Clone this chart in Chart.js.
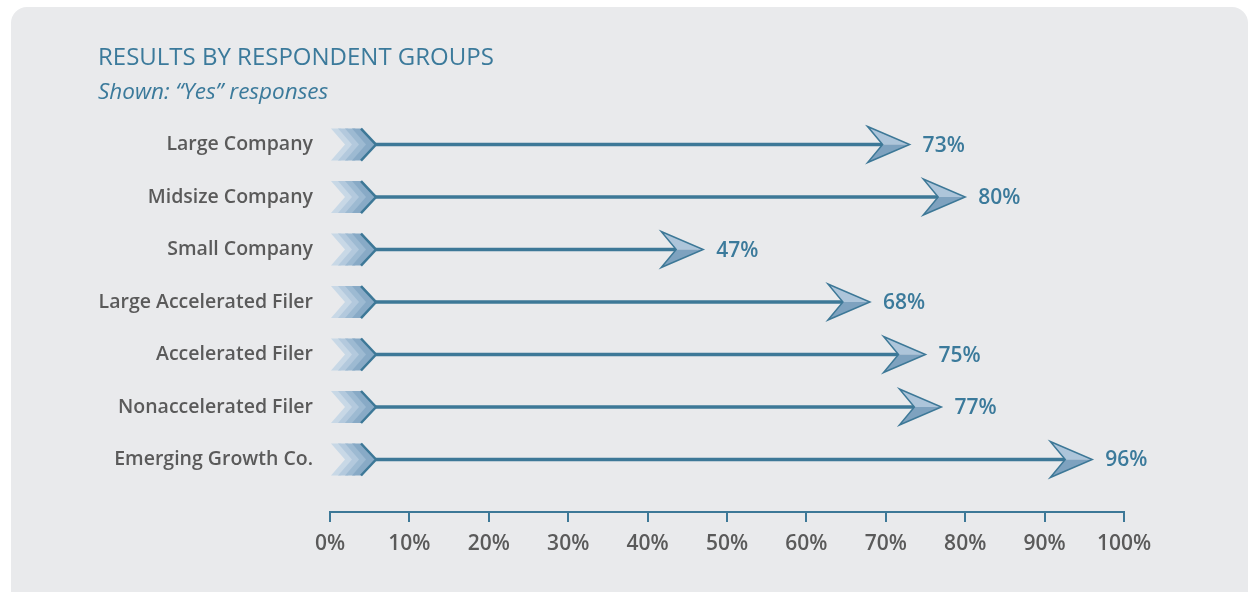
<!DOCTYPE html>
<html>
<head>
<meta charset="utf-8">
<script src="https://cdn.jsdelivr.net/npm/chart.js@4.4.1/dist/chart.umd.min.js"></script>
<style>
  html, body { margin:0; padding:0; background:#fff; }
  #wrap { position:relative; width:1254px; height:592px; overflow:hidden; }
  #panel { position:absolute; left:11px; top:7px; width:1237px; height:600px; background:#e9eaec; border-radius:16px; }
  #chart { position:absolute; left:0; top:0; }
</style>
</head>
<body>
<div id="wrap">
  <div id="panel"></div>
  <canvas id="chart" width="1254" height="592"></canvas>
</div>
<script>
// data
const groups = ['Large Company','Midsize Company','Small Company','Large Accelerated Filer','Accelerated Filer','Nonaccelerated Filer','Emerging Growth Co.'];
const yesPct = [73, 80, 47, 68, 75, 77, 96];
const xTicks = [0,10,20,30,40,50,60,70,80,90,100];

const TEAL = '#3d7897', TEXT = '#3b7a9b', GREY = '#5a5a5a';
const FONT = '"Open Sans", "Noto Sans", sans-serif';

// draws the feathered arrows on top of the (invisible) bars
const arrows = {
  id:'arrows',
  afterDatasetsDraw(chart){
    const ctx = chart.ctx;
    chart.getDatasetMeta(0).data.forEach((bar, i) => {
      const x0 = bar.base, tip = bar.x, y = bar.y;
      ctx.save();
      // fletching
      const fl = ['#c8d8e6','#b3c9dd','#9dbad2','#88aac6'];
      const h = 16, t = 10, d = 14;
      fl.forEach((c, k) => {
        const a = x0 + k*7;
        ctx.beginPath();
        ctx.moveTo(a, y-h); ctx.lineTo(a+t, y-h); ctx.lineTo(a+t+d, y);
        ctx.lineTo(a+t, y+h); ctx.lineTo(a, y+h); ctx.lineTo(a+d, y);
        ctx.closePath(); ctx.fillStyle = c; ctx.fill();
      });
      const fa = x0 + 21 + t;
      ctx.beginPath();
      ctx.moveTo(fa-1, y-h); ctx.lineTo(fa+d, y); ctx.lineTo(fa-1, y+h);
      ctx.strokeStyle = TEAL; ctx.lineWidth = 2.5; ctx.stroke();
      // shaft
      const back = tip-42, notch = tip-27, hh = 18;
      ctx.beginPath();
      ctx.moveTo(fa+d, y); ctx.lineTo(notch, y);
      ctx.lineWidth = 3.5; ctx.stroke();
      // head
      ctx.beginPath();
      ctx.moveTo(back, y-hh); ctx.lineTo(tip, y); ctx.lineTo(notch, y); ctx.closePath();
      ctx.fillStyle = '#adc5da'; ctx.fill();
      ctx.beginPath();
      ctx.moveTo(notch, y); ctx.lineTo(tip, y); ctx.lineTo(back, y+hh); ctx.closePath();
      ctx.fillStyle = '#7ea2bf'; ctx.fill();
      ctx.beginPath();
      ctx.moveTo(back, y-hh); ctx.lineTo(tip, y); ctx.lineTo(back, y+hh); ctx.lineTo(notch, y); ctx.closePath();
      ctx.lineWidth = 1.5; ctx.lineJoin = 'miter'; ctx.stroke();
      // value label
      ctx.fillStyle = TEXT;
      ctx.font = '600 21px ' + FONT;
      ctx.textBaseline = 'middle';
      ctx.fillText(yesPct[i] + '%', tip + 13, y + 1);
      ctx.restore();
    });
  }
};

new Chart(document.getElementById('chart'), {
  type:'bar',
  data:{ datasets:[{ data: yesPct.map((v,i)=>({x:v, y:i})), backgroundColor:'rgba(0,0,0,0)', borderWidth:0 }] },
  options:{
    indexAxis:'y', responsive:false, animation:false,
    layout:{ padding:{ left:98, right:130, top:0, bottom:0 } },
    plugins:{
      legend:{ display:false }, tooltip:{ enabled:false },
      title:{ display:true, text:'RESULTS BY RESPONDENT GROUPS', align:'start', color:TEXT,
        font:{ family:FONT, size:24, weight:'normal', lineHeight:1.2 }, padding:{ top:44, bottom:4 } },
      subtitle:{ display:true, text:'Shown: \u201cYes\u201d responses', align:'start', color:TEXT,
        font:{ family:FONT, size:22.5, style:'italic', weight:'normal', lineHeight:1.2 }, padding:{ top:2, bottom:12.5 } }
    },
    scales:{
      x:{ type:'linear', min:0, max:100,
        afterBuildTicks: s => { s.ticks = xTicks.map(v => ({value:v})); },
        afterFit: s => { s.height = 80; },
        grid:{ display:true, drawOnChartArea:false, drawTicks:true, tickLength:10, color:TEAL, lineWidth:2 },
        border:{ display:true, color:TEAL, width:2 },
        ticks:{ callback: v => v + '%', color:GREY, padding:9, maxRotation:0,
          font:{ family:FONT, size:21, weight:'600' } } },
      y:{ type:'linear', reverse:true, min:-0.5, max:7, offset:false,
        afterBuildTicks: s => { s.ticks = groups.map((g,i) => ({value:i})); },
        afterFit: s => { s.width = 232; },
        grid:{ display:false }, border:{ display:false },
        ticks:{ callback: v => groups[v], color:GREY, padding:9, autoSkip:false,
          font:{ family:FONT, size:19.5, weight:'600' } } }
    }
  },
  plugins:[arrows]
});
</script>
</body>
</html>
